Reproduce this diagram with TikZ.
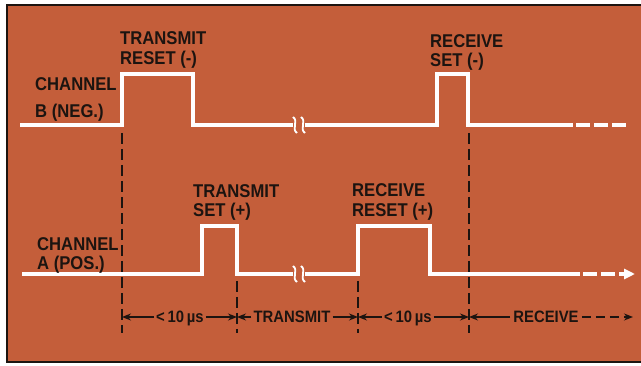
\documentclass[tikz,border=0pt]{standalone}
\usepackage{fontspec}
\setmainfont{Liberation Sans}[FakeStretch=0.9]
\usetikzlibrary{arrows.meta}
\definecolor{bgorange}{RGB}{196,94,58}
\definecolor{ink}{RGB}{28,20,16}
\tikzset{
  sig/.style={draw=white, line width=4pt, line join=miter, line cap=butt},
  sigdash/.style={draw=white, line width=4pt, dash pattern=on 14pt off 4pt},
  brk/.style={draw=white, line width=1.8pt},
  guide/.style={draw=ink, line width=2pt, dash pattern=on 11pt off 5pt},
  dim/.style={draw=ink, line width=1.4pt, -{Stealth[length=9pt,width=7pt]}},
  lbl/.style={text=ink, inner sep=0pt, anchor=base west, font=\fontsize{18.5}{20}\selectfont\bfseries},
  blbl/.style={text=ink, inner sep=0pt, anchor=base, font=\fontsize{16.5}{18}\selectfont\bfseries},
}
\begin{document}
\begin{tikzpicture}[x=1pt,y=-1pt]
\useasboundingbox (0,0) rectangle (641,366);
\fill[white] (0,0) rectangle (641,366);
\fill[bgorange] (7,5) rectangle (641,362);
\draw[ink, line width=2.2pt] (641,5) -- (7,5) -- (7,362) -- (641,362);

% coordinates
\coordinate (b0) at (20,125);
\coordinate (b1) at (293,125);
\coordinate (b2) at (305,125);
\coordinate (b3) at (573,125);
\coordinate (b4) at (628,125);
\coordinate (a0) at (22,274);
\coordinate (a1) at (293,274);
\coordinate (a2) at (305,274);
\coordinate (a3) at (580,274);
\coordinate (a4) at (635,274);

% channel B
\draw[sig] (b0) -- (122,125) -- (122,74) -- (193,74) -- (193,125) -- (b1);
\draw[sig] (b2) -- (437,125) -- (437,74) -- (468,74) -- (468,125) -- (b3);
\draw[sigdash] (b3) ++(3,0) -- (b4);
% channel A
\draw[sig] (a0) -- (202,274) -- (202,226) -- (237,226) -- (237,274) -- (a1);
\draw[sig] (a2) -- (358,274) -- (358,226) -- (430,226) -- (430,274) -- (a3);
\draw[sigdash, -{Triangle[length=11pt,width=10pt]}] (a3) ++(3,0) -- (a4);

% break marks
\foreach \y in {125,274}{
  \foreach \x in {295,303}{
    \draw[brk] (\x-2,\y-8) .. controls (\x+4,\y-4) and (\x-4,\y+4) .. (\x+2,\y+8);
  }
}

% guide lines
\coordinate (g1t) at (122,133); \coordinate (g1b) at (122,333);
\coordinate (g2t) at (237,281); \coordinate (g2b) at (237,333);
\coordinate (g3t) at (358,281); \coordinate (g3b) at (358,333);
\coordinate (g4t) at (469,133); \coordinate (g4b) at (469,333);
\draw[guide] (g1t) -- (g1b);
\draw[guide] (g2t) -- (g2b);
\draw[guide] (g3t) -- (g3b);
\draw[guide] (g4t) -- (g4b);

% labels
\node[lbl] (cb1) at (35,91) {CHANNEL};
\node[lbl] (cb2) at (35,118) {B (NEG.)};
\node[lbl] (ca1) at (37,251) {CHANNEL};
\node[lbl] (ca2) at (37,270) {A (POS.)};
\node[lbl] (tr1) at (120,45) {TRANSMIT};
\node[lbl] (tr2) at (120,65) {RESET (-)};
\node[lbl] (rs1) at (430,48) {RECEIVE};
\node[lbl] (rs2) at (430,67) {SET (-)};
\node[lbl] (ts1) at (193,198) {TRANSMIT};
\node[lbl] (ts2) at (193,217) {SET (+)};
\node[lbl] (rr1) at (352,197) {RECEIVE};
\node[lbl] (rr2) at (352,217) {RESET (+)};

% bottom dimension row
\node[blbl] (d1) at (180,323) {<\,10\,µs};
\node[blbl] (d2) at (292,323) {TRANSMIT};
\node[blbl] (d3) at (408,323) {<\,10\,µs};
\node[blbl] (d4) at (546,323) {RECEIVE};
\coordinate (y1) at (122,317);
\coordinate (y2) at (237,317);
\coordinate (y3) at (358,317);
\coordinate (y4) at (469,317);
\coordinate (yend) at (633,317);
\draw[dim] (d1.west |- y1) ++(-2,0) -- (y1);
\draw[dim] (d1.east |- y1) ++(2,0) -- (y2);
\draw[dim] (d2.west |- y1) ++(-2,0) -- (y2);
\draw[dim] (d2.east |- y1) ++(2,0) -- (y3);
\draw[dim] (d3.west |- y1) ++(-2,0) -- (y3);
\draw[dim] (d3.east |- y1) ++(2,0) -- (y4);
\draw[dim] (d4.west |- y1) ++(-3,0) -- (y4);
\draw[dim, dash pattern=on 9pt off 5pt] (d4.east |- y1) ++(3,0) -- (yend);
\end{tikzpicture}
\end{document}
